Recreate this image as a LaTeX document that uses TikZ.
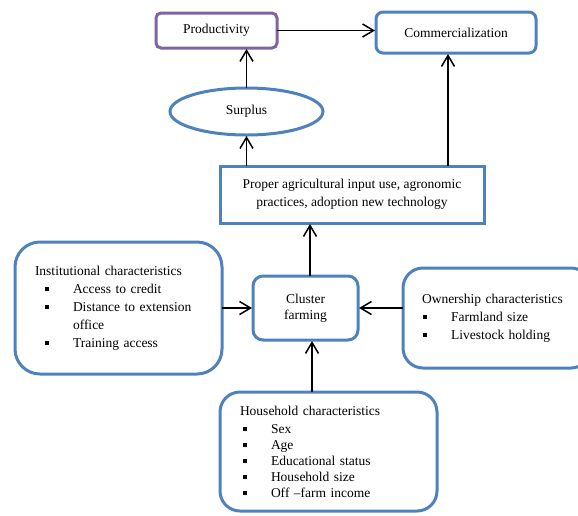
\documentclass[tikz,border=0pt]{standalone}
\usepackage{fontspec}
\setmainfont{Liberation Serif}
\usepackage{xcolor}
\usepackage{tikz}
\usetikzlibrary{positioning}
\usetikzlibrary{arrows.meta,shapes.geometric}
\definecolor{boxblue}{HTML}{4F81BD}
\definecolor{boxpurple}{HTML}{8064A2}
\tikzset{edge/.style = {-{Straight Barb[length=11pt,width=13pt]}, line width=1.5pt, shorten >=1pt}}
\newcommand{\bul}[2][10pt]{\hspace*{#1}\makebox[28pt][l]{\rule[2.5pt]{3.5pt}{3.5pt}}#2}

\begin{document}
\begin{tikzpicture}[x=1pt,y=-1pt,font=\fontsize{13.5}{18}\selectfont,
    box/.style={draw=boxblue,line width=3pt,outer sep=0pt,inner sep=0pt,align=center}]
                \useasboundingbox (0,0) rectangle (578,515);
                \node[box, rounded corners=10pt, minimum width=105pt, minimum height=64pt, font=\fontsize{13.5}{16}\selectfont] (cluster) at (305.5,308) {Cluster\\farming};
                \node[box, minimum width=264pt, minimum height=57pt] (proper) [above=53pt of cluster, xshift=46.5pt] {Proper agricultural input use, agronomic\\practices, adoption new technology};
                \node[box, ellipse, minimum width=153pt, minimum height=47pt] (surplus) [above=31pt of proper, xshift=-105.5pt] {Surplus};
                \node[box, draw=boxpurple, rounded corners=5pt, minimum width=121pt, minimum height=35pt] (prod) [above=40pt of surplus, xshift=-30pt] {Productivity};
                \node[box, rounded corners=7pt, minimum width=160pt, minimum height=41pt] (comm) [right=99pt of prod, yshift=-2pt] {Commercialization};
                \node[box, rounded corners=25pt, text width=167pt, inner xsep=20pt, minimum height=132pt, align=left] (inst) [left=31pt of cluster]
                    {Institutional characteristics\\ \bul{Access to credit}\\ \bul{Distance to extension}\\ \hspace*{38pt}office\\ \bul{Training access}};
                \node[box, rounded corners=20pt, text width=150pt, inner xsep=19pt, minimum height=100pt, align=left] (own) [right=45pt of cluster, yshift=-10pt]
                    {Ownership characteristics\\ \bul[1pt]{Farmland size}\\ \bul[1pt]{Livestock holding}};
                \node[box, rounded corners=20pt, text width=177pt, inner xsep=20pt, minimum height=119pt, align=left, font=\fontsize{13.5}{16}\selectfont] (house) [below=52pt of cluster, xshift=23pt]
                    {Household characteristics\\[2pt] \bul[3pt]{Sex}\\ \bul[3pt]{Age}\\ \bul[3pt]{Educational status}\\ \bul[3pt]{Household size}\\ \bul[3pt]{Off --farm income}};

                \coordinate (cm) at ([xshift=-8pt]comm.south);
                \coordinate (cl) at ([xshift=4.5pt]cluster.north);
                \coordinate (hs) at ([xshift=-16.5pt]house.north);
                \draw[edge] (prod.east) -- (prod.east -| comm.west);
                \draw[edge] (surplus.north) -- (surplus.north |- prod.south);
                \draw[edge] (surplus.south |- proper.north) -- (surplus.south);
                \draw[edge] (cm |- proper.north) -- (cm);
                \draw[edge] (cl) -- (cl |- proper.south);
                \draw[edge] (inst.east) -- (cluster.west);
                \draw[edge] (cluster.east -| own.west) -- (cluster.east);
                \draw[edge] (hs) -- (hs |- cluster.south);
            \end{tikzpicture}
\end{document}
